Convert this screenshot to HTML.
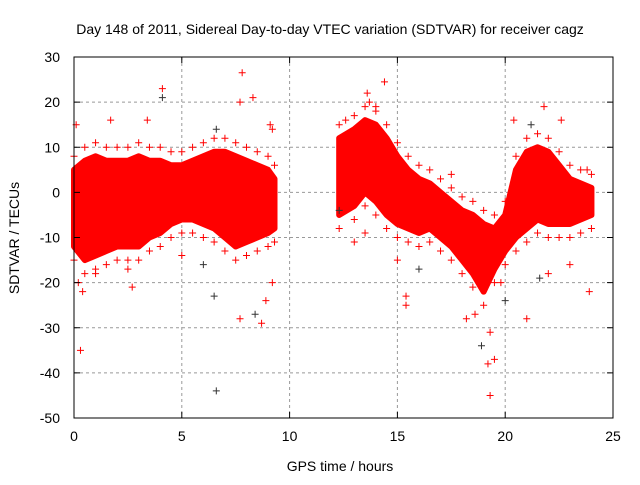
<!DOCTYPE html>
<html><head><meta charset="utf-8"><style>
body{margin:0;background:#fff;width:640px;height:480px;overflow:hidden}
svg text{font-family:"Liberation Sans",sans-serif;font-size:14px;fill:#000}
</style></head><body>
<svg id="chart" width="640" height="480">
<text x="330" y="34" text-anchor="middle">Day 148 of 2011, Sidereal Day-to-day VTEC variation (SDTVAR) for receiver cagz</text>
<text x="340" y="471" text-anchor="middle">GPS time / hours</text>
<text transform="translate(19,238) rotate(-90)" text-anchor="middle">SDTVAR / TECUs</text>
<g id="grid"></g><g id="marks"></g><g id="axes"></g>
</svg>
<script>
const xTicks=[0,5,10,15,20,25];
const yTicks=[30,20,10,0,-10,-20,-30,-40,-50];
const seg1Hours=[0,0.5,1,1.5,2,2.5,3,3.5,4,4.5,5,5.5,6,6.5,7,7.5,8,8.5,9,9.3];
const seg1Upper=[5,7,8,7,7,7,8,7,7,6,6,7,8,9,9,8,7,6,5,3];
const seg1Lower=[-12,-15,-14,-13,-12,-12,-12,-10,-9,-7,-6,-6,-7,-8,-10,-12,-11,-10,-9,-8];
const seg2Hours=[12.3,13,13.5,14,14.5,15,15.5,16,16.5,17,17.5,18,18.5,19,19.5,20,20.5,21,21.5,22,22.5,23,23.5,24];
const seg2Upper=[12,14,16,15,12,8,5,3,2,0,-2,-4,-5,-7,-8,-5,5,9,10,9,6,3,2,1];
const seg2Lower=[-5,-3,0,-2,-5,-7,-8,-9,-8,-10,-12,-15,-18,-22,-17,-13,-10,-8,-6,-7,-7,-7,-6,-5];
const outHours=[0.3,6.6,19.3,7.8,14.4,4.1,4.1,8.3,7.7,19.2,19.5,18.9,19.3,7.7,8.7,21,6.5,15.4,15.4,2.7,0.4,8.4,22,9.2,13,13.5,20,18.6,13.6,13.7,21.8,21.6,23.9,0.1,1.7,3.4,6.6,9.1,12.6,22.6,23.8,12.3,0.2,1,2.5,5,6,8.9,9.2,14,15,16,17.5,18.2,19.8,20.4,21.2,23];
const outVals=[-35,-44,-45,26.5,24.5,23,21,21,20,-38,-37,-34,-31,-28,-29,-28,-23,-23,-25,-21,-22,-27,-18,-20,-11,-9,-24,-27,22,20,19,-19,-22,15,16,16,14,15,16,16,5,-4,-20,-18,-17,-14,-16,-24,14,19,-15,-17,4,-28,-20,16,15,-16];
const X=h=>74+h*21.56, Y=v=>57+(30-v)*4.5125;
const NS="http://www.w3.org/2000/svg";
function mk(t,a,p){const e=document.createElementNS(NS,t);for(const k in a)e.setAttribute(k,a[k]);p.appendChild(e);return e;}
const grid=document.getElementById('grid'),axes=document.getElementById('axes'),marks=document.getElementById('marks');
xTicks.forEach(t=>{
 if(t>0&&t<25){const l=mk('line',{x1:X(t),x2:X(t),y1:57,y2:418,stroke:'#999','stroke-dasharray':'3,3'},grid);
 }
 const tx=mk('text',{x:X(t),y:441,'text-anchor':'middle'},axes);tx.textContent=t;
 
 mk('line',{x1:X(t),x2:X(t),y1:418,y2:412,stroke:'#000'},axes);mk('line',{x1:X(t),x2:X(t),y1:57,y2:63,stroke:'#000'},axes);
});
yTicks.forEach(t=>{
 if(t<30&&t>-50){const l=mk('line',{x1:74,x2:613,y1:Y(t),y2:Y(t),stroke:'#999','stroke-dasharray':'3,3'},grid);
 }
 const tx=mk('text',{x:60,y:Y(t)+5,'text-anchor':'end'},axes);tx.textContent=t;
 
 mk('line',{x1:74,x2:80,y1:Y(t),y2:Y(t),stroke:'#000'},axes);mk('line',{x1:607,x2:613,y1:Y(t),y2:Y(t),stroke:'#000'},axes);
});
const frame=mk('rect',{x:74,y:57,width:539,height:361,fill:'none',stroke:'#000'},axes);

function plus(h,v,c){const g=mk('path',{d:`M${X(h)-3.5},${Y(v)}h7M${X(h)},${Y(v)-3.5}v7`,stroke:c,'stroke-width':1,fill:'none'},marks);return g;}
function band(H,U,L,name){
 let d='M'+H.map((h,i)=>X(h)+','+Y(U[i])).join('L')+'L'+H.map((h,i)=>X(h)+','+Y(L[i])).reverse().join('L')+'Z';
 const p=mk('path',{d:d,fill:'#f00',stroke:'#f00','stroke-width':6,'stroke-linejoin':'round'},marks);
 
 H.forEach((h,i)=>{
  const a=plus(h,U[i]+3,'#f00');
  const b=plus(h,L[i]-3,'#f00');
 });
}
band(seg1Hours,seg1Upper,seg1Lower,'data-band-night');
band(seg2Hours,seg2Upper,seg2Lower,'data-band-day');
outHours.forEach((h,i)=>{const p=plus(h,outVals[i],i%5===1?'#333':'#f00');
 });
</script>
</body></html>
